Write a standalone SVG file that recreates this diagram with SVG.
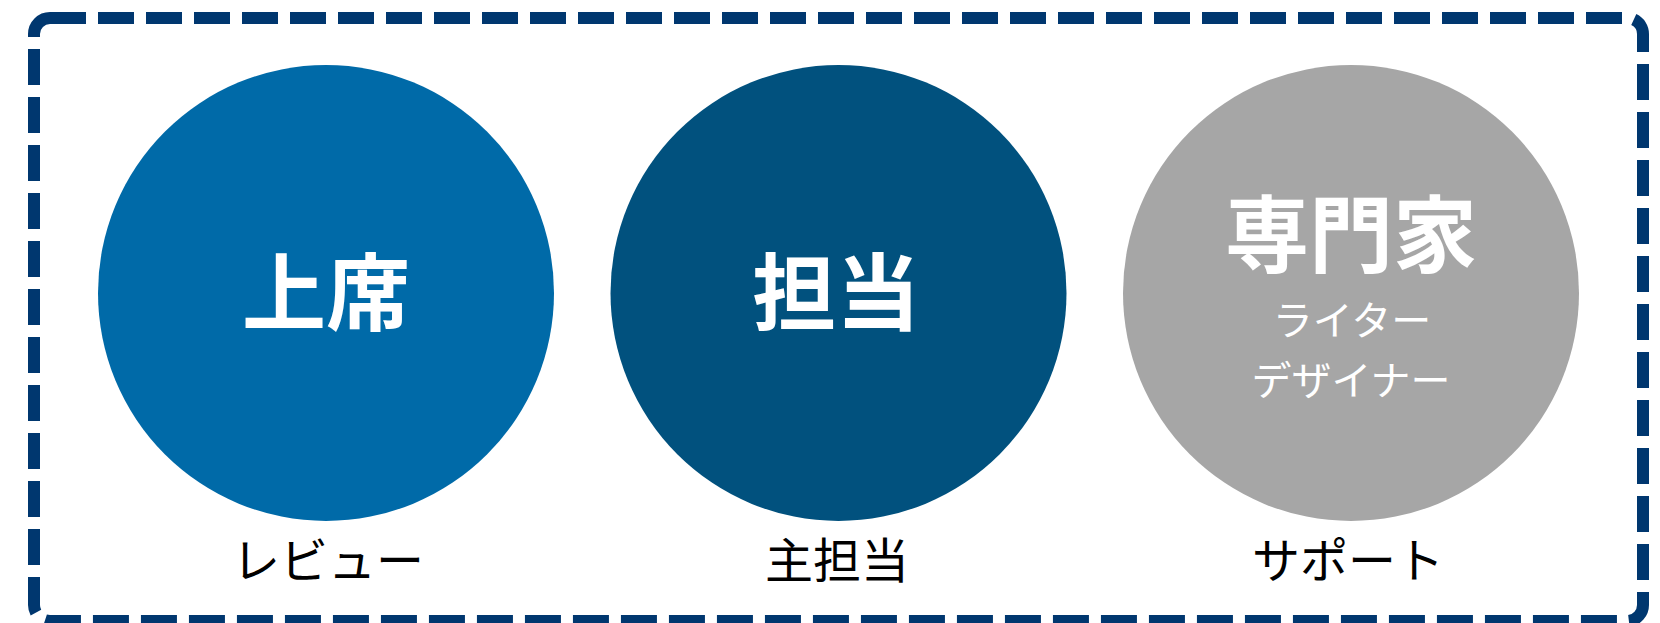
<svg xmlns="http://www.w3.org/2000/svg" width="1660" height="623" viewBox="0 0 1660 623">
<style>
.big{font-family:"Noto Sans CJK JP",sans-serif;font-weight:bold;font-size:84px;fill:#fff;text-anchor:middle}
.sub{font-family:"Noto Sans CJK JP",sans-serif;font-weight:normal;font-size:40px;fill:#fff;text-anchor:middle}
.lbl{font-family:"Noto Sans CJK JP",sans-serif;font-size:48px;fill:#000;text-anchor:middle}
</style>
<rect x="0" y="0" width="1660" height="623" fill="#fff"/>
<rect id="frame" x="34" y="18" width="1609" height="603" rx="16" fill="none" stroke="#00376F" stroke-width="12" stroke-dasharray="36 12"/>
<g id="node-joseki">
<circle cx="326" cy="293" r="228" fill="#006AA8"/>
<text class="big" x="326" y="324">上席</text>
<text class="lbl" x="328" y="578">レビュー</text>
</g>
<g id="node-tanto">
<circle cx="838.5" cy="293" r="228" fill="#01517E"/>
<text class="big" x="836" y="324">担当</text>
<text class="lbl" x="837" y="578">主担当</text>
</g>
<g id="node-senmonka">
<circle cx="1351" cy="293" r="228" fill="#A6A6A6"/>
<text class="big" x="1351" y="266">専門家</text>
<text class="sub" x="1352" y="335">ライター</text>
<text class="sub" x="1351" y="395">デザイナー</text>
<text class="lbl" x="1348" y="578">サポート</text>
</g>
<g id="connectors"></g>
</svg>
